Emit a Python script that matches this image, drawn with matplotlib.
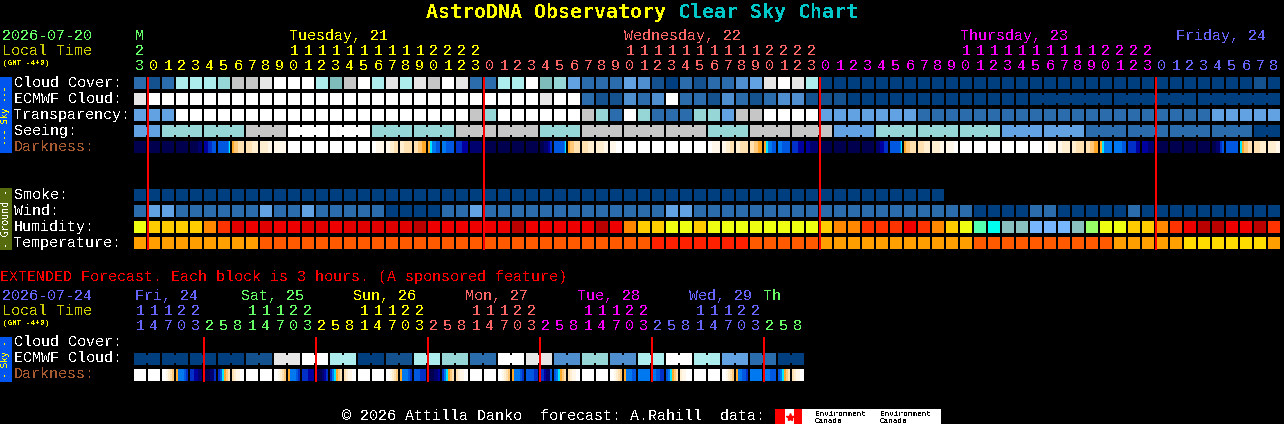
#!/usr/bin/env python3
"""Clear Sky Chart, drawn block by block on a pixel sized axes."""
from __future__ import annotations

import matplotlib
matplotlib.use("Agg")
import matplotlib.pyplot as plt
from matplotlib.colors import ListedColormap

# ---------------------------------------------------------------------------
# Data: one character per block, looked up in the palettes below
# ---------------------------------------------------------------------------

CLOUD = ("2127776889" "fff758f797" "98f92277f5" "6422243102" "122349f970"
         "0000000000" "0000000000" "0000000000" "10")
ECMWF = ("9fffffffff" "ffffffffff" "fffffffff9" "ff211323f2" "2132123311"
         "1000000000" "0000000000" "0000000000" "00")
TRANSPARENCY = ("444fffffff" "ffffffffff" "ffff86ffff" "ff862f6222" "66488ffff4"
                "4444442222" "2222222222" "2222222444" "44")
SEEING = ("44" "666" "666" "888" "fff" "fff" "666" "666" "888" "888" "666" "888"
          "888" "888" "666" "888" "888" "444" "666" "666" "666" "444" "444" "222"
          "222" "222" "222" "00")
SMOKE = "0" * 58
WIND = ("2442222224" "2242222200" "0022422222" "2222222244" "2222222222"
        "2222222222" "0000220000" "0200000000" "00")
HUMIDITY = ("abbbbcdfef" "eeffefffff" "geeeeeegee" "eeegecbbaa" "baaaaaaaab"
            "ccdddedcba" "hijjkkkjla" "abbcdeggee" "gd")
TEMPERATURE = ("p" * 9 + "q" * 28 + "s" * 7 + "q" * 5 + "p" * 11
               + "q" * 10 + "p" * 5 + "t" * 6 + "p")
DARKNESS = [
    "000000", "000000", "000000", "000000", "000011", "223344", "444444444456",
    "788999", "999aaa", "aaaabb", "bbbbbb", "cccccc", "cccccc", "cccccc",
    "cccccc", "cccccc", "cccccc", "ccbbbb", "bbaa99", "aa9999", "998877",
    "765544", "554444", "333222", "111111", "000000", "000000", "000000",
    "000000", "001123", "444444444456", "788999", "999aaa", "aaaabb", "bbbccc",
    "cccccc", "cccccc", "cccccc", "cccccc", "cccccc", "cccccc", "ccbbbb",
    "bbaa99", "aa9999", "998877", "765544", "554444", "333222", "221111",
    "000000", "000000", "000000", "000000", "112233", "444444444456", "788999",
    "999aaa", "aaaabb", "bbbbcc", "cccccc", "cccccc", "cccccc", "cccccc",
    "cccccc", "cccccc", "ccbbbb", "bbaaaa", "aa9999", "998877", "765555",
    "555544", "333322", "222111", "000000", "000000", "000000", "000000",
    "001134", "444444", "678899", "999aaa", "aaaabb",
]

SEEING_GROUPS = [2] + [3] * 26 + [2]
ECMWF_GROUPS = [1] * 64 + [6, 6, 6]

EXT_ECMWF = ("00000000" "11" "99" "ff" "77" "00" "11" "77" "66" "22" "ff" "99"
             "33" "66" "33" "77" "ff" "77" "44" "22" "00")
EXT_GROUPS = [2] * 24
EXT_DARKNESS = [
    "cccccc", "cccccc", "ccba98", "755543", "332211", "000113", "346789", "9abbcc",
    "cccccc", "cccccc", "ccba98", "755543", "333222", "000123", "356789", "9abbcc",
    "cccccc", "cccccc", "ccba98", "755543", "444333", "000112", "356789", "9abbcc",
    "cccccc", "cccccc", "ccba98", "755543", "444433", "332114", "456789", "9abbcc",
    "cccccc", "cccccc", "ccba98", "755544", "555555", "554433", "456789", "abbccc",
    "cccccc", "cccccc", "ccba98", "755443", "555555", "555444", "456789", "9abbcc",
]

HOUR_TENS = ("2" "          " "1111111111" "2222" "          " "1111111111" "2222"
             "          " "1111111111" "2222" "         ")
HOUR_ONES = ("3" "012345678901234567890123" "012345678901234567890123"
             "012345678901234567890123" "012345678")
EXT_TENS = "11122   11122   11122   11122   11122   11122   "
EXT_ONES = "14703258" * 6

# day spans: (first block, last block + 1, colour key)
HOUR_SPANS = [(0, 1, "green"), (1, 25, "yellow"), (25, 49, "salmon"),
              (49, 73, "magenta"), (73, 82, "violet")]
EXT_SPANS = [(0, 5, "violet"), (5, 13, "green"), (13, 21, "yellow"),
             (21, 29, "salmon"), (29, 37, "magenta"), (37, 45, "violet"),
             (45, 48, "green")]
DAY_LABELS = [("M", 135, "green"), ("Tuesday, 21", 289, "yellow"),
              ("Wednesday, 22", 624, "salmon"), ("Thursday, 23", 960, "magenta"),
              ("Friday, 24", 1176, "violet")]
EXT_DAY_LABELS = [("Fri, 24", 135, "violet"), ("Sat, 25", 241, "green"),
                  ("Sun, 26", 353, "yellow"), ("Mon, 27", 465, "salmon"),
                  ("Tue, 28", 577, "magenta"), ("Wed, 29", 689, "violet"),
                  ("Th", 764, "green")]
MAIN_LINES = [147, 483, 819, 1155]
EXT_LINES = [203, 315, 427, 539, 651, 763]

# ---------------------------------------------------------------------------
# Styles
# ---------------------------------------------------------------------------

FONT = "Liberation Mono"
TITLE_FONT = "DejaVu Sans Mono"
TEXT_COLORS = {"green": "#66FF66", "yellow": "#FFFF00", "salmon": "#FF6666",
               "magenta": "#FF00FF", "violet": "#6666FF"}

SKY_PALETTE = {
    "0": "#003F7F", "1": "#13528F", "2": "#2B6CAD", "3": "#4F8FD0", "4": "#62A1E2",
    "5": "#7FBDBD", "6": "#96D6D6", "7": "#AEEDED", "8": "#C6C6C6", "9": "#E6E6E6",
    "f": "#FFFFFF",
}
GROUND_PALETTE = {
    "a": "#EEFF11", "b": "#FFCC00", "c": "#FF8800", "d": "#FF3300", "e": "#EE0000",
    "f": "#E00000", "g": "#BB0000", "h": "#55FFB0", "i": "#00FFEE", "j": "#88C0C0",
    "k": "#77B5FE", "l": "#99FF66", "p": "#FFA000", "q": "#FF5A00", "s": "#FF2000",
    "t": "#FFDD00",
}
DARK_CMAP = ListedColormap([
    "#00004F", "#00006F", "#0000A0", "#0030C8", "#0058E0", "#0078F0", "#00E8FF",
    "#FFA828", "#FFC878", "#FFE0B0", "#FFEECF", "#FFF8EA", "#FFFFFF",
])

X0, PITCH, SIZE = 134, 14, 12


def text(ax, x, y, s, color="white", size=10.8, font=FONT, **kw):
    kw.setdefault("ha", "left")
    kw.setdefault("va", "baseline")
    ax.text(x, y, s, color=color, fontsize=size, family=font, **kw)


def draw_row(ax, y, values, palette, groups=None):
    xs = [X0 + PITCH * i for i in range(len(values))]
    ax.bar(xs, SIZE, SIZE, y, align="edge", antialiased=False,
           color=[palette[v] for v in values])
    if not groups:
        return
    # blocks of one group are joined by a narrower bridge
    start = 0
    for n in groups:
        for i in range(start, start + n - 1):
            ax.bar(xs[i] + SIZE, SIZE - 4, PITCH - SIZE, y + 2, align="edge",
                   antialiased=False, color=palette[values[i]])
        start += n


def draw_darkness(ax, y, cells):
    for i, cell in enumerate(cells):
        x = X0 + PITCH * i
        ax.imshow([[int(c, 16) for c in cell]], extent=(x, x + SIZE, y + SIZE, y),
                  cmap=DARK_CMAP, vmin=0, vmax=12, interpolation="nearest",
                  aspect="auto")


def draw_hours(ax, y, digits, spans):
    for first, last, key in spans:
        for i in range(first, last):
            if digits[i] != " ":
                text(ax, X0 + PITCH * i + 6, y, digits[i], TEXT_COLORS[key], ha="center")


def main() -> None:
    assert all(len(r) == 82 for r in (CLOUD, ECMWF, TRANSPARENCY, SEEING, WIND,
                                      HUMIDITY, TEMPERATURE, DARKNESS, HOUR_ONES,
                                      HOUR_TENS))
    assert len(EXT_ECMWF) == 48 and len(EXT_DARKNESS) == 48

    plt.rcParams["text.antialiased"] = False
    fig = plt.figure(figsize=(12.84, 4.24), dpi=100, facecolor="black")
    ax = fig.add_axes([0, 0, 1, 1])
    ax.set_xlim(0, 1284)
    ax.set_ylim(424, 0)
    ax.axis("off")

    # ---- Title ----
    text(ax, 426, 18.5, "AstroDNA Observatory", "#FFFF00", 14.35, TITLE_FONT, fontweight="bold")
    text(ax, 678, 18.5, "Clear Sky Chart", "#00C8C8", 14.35, TITLE_FONT, fontweight="bold")

    # ---- Main header ----
    text(ax, 2, 40, "2026-07-20", TEXT_COLORS["green"])
    text(ax, 2, 55, "Local Time", "#CCCC00")
    text(ax, 3, 65, "(GMT -4+0)", "#FFFF00", 5.5)
    for label, x, key in DAY_LABELS:
        text(ax, x, 40, label, TEXT_COLORS[key])
    draw_hours(ax, 55, HOUR_TENS, HOUR_SPANS)
    draw_hours(ax, 70, HOUR_ONES, HOUR_SPANS)

    # ---- Main rows ----
    for y, label, base, color in [
        (77, "Cloud Cover:", 87, "white"), (93, "ECMWF Cloud:", 103, "white"),
        (109, "Transparency:", 119, "white"), (125, "Seeing:", 135, "white"),
        (141, "Darkness:", 151, "#A85A30"), (189, "Smoke:", 199, "white"),
        (205, "Wind:", 215, "white"), (221, "Humidity:", 231, "white"),
        (237, "Temperature:", 247, "white"),
    ]:
        text(ax, 14, base, label, color)
    draw_row(ax, 77, CLOUD, SKY_PALETTE)
    draw_row(ax, 93, ECMWF, SKY_PALETTE, ECMWF_GROUPS)
    draw_row(ax, 109, TRANSPARENCY, SKY_PALETTE)
    draw_row(ax, 125, SEEING, SKY_PALETTE, SEEING_GROUPS)
    draw_darkness(ax, 141, DARKNESS)
    draw_row(ax, 189, SMOKE, SKY_PALETTE)
    draw_row(ax, 205, WIND, SKY_PALETTE)
    draw_row(ax, 221, HUMIDITY, GROUND_PALETTE)
    draw_row(ax, 237, TEMPERATURE, GROUND_PALETTE)

    # ---- Side bars ----
    ax.bar(0, 76, 12, 77, align="edge", color="#0055EE", antialiased=False)
    text(ax, 6, 115, "--- Sky ---", "#FFFF00", 6.5, TITLE_FONT, rotation=90, ha="center", va="center")
    ax.bar(0, 62, 12, 188, align="edge", color="#556B0E", antialiased=False)
    text(ax, 6, 219, "- Ground -", "white", 7, TITLE_FONT, rotation=90, ha="center", va="center")
    ax.bar(0, 45, 12, 337, align="edge", color="#0055EE", antialiased=False)
    text(ax, 6, 359, "- Sky -", "#FFFF00", 6.5, TITLE_FONT, rotation=90, ha="center", va="center")

    # ---- Extended forecast ----
    text(ax, 0, 281, "EXTENDED Forecast. Each block is 3 hours. (A sponsored feature)",
         "#FF0000")
    text(ax, 2, 300, "2026-07-24", TEXT_COLORS["violet"])
    text(ax, 2, 315, "Local Time", "#CCCC00")
    text(ax, 3, 325, "(GMT -4+0)", "#FFFF00", 5.5)
    for label, x, key in EXT_DAY_LABELS:
        text(ax, x, 300, label, TEXT_COLORS[key])
    draw_hours(ax, 315, EXT_TENS, EXT_SPANS)
    draw_hours(ax, 330, EXT_ONES, EXT_SPANS)
    text(ax, 14, 346, "Cloud Cover:")
    text(ax, 14, 362, "ECMWF Cloud:")
    text(ax, 14, 378, "Darkness:", "#A85A30")
    draw_row(ax, 353, EXT_ECMWF, SKY_PALETTE, EXT_GROUPS)
    draw_darkness(ax, 369, EXT_DARKNESS)

    # ---- Midnight lines ----
    ax.bar(MAIN_LINES, 173, 2, 77, align="edge", color="#FF0000", antialiased=False, zorder=5)
    ax.bar(EXT_LINES, 45, 2, 337, align="edge", color="#FF0000", antialiased=False, zorder=5)

    # ---- Footer ----
    text(ax, 342, 420, "\u00a9 2026 Attilla Danko  forecast: A.Rahill  data:")
    ax.bar(775, 15, 166, 409, align="edge", color="white", antialiased=False)
    ax.bar([775, 794], 15, [10, 8], 409, align="edge", color="#FF0000", antialiased=False)
    ax.plot(789.5, 416.5, marker="*", markersize=6, color="#FF0000", linestyle="none")
    for x in (815, 880):
        text(ax, x, 416, "Environment", "black", 5.6)
        text(ax, x, 423, "Canada", "black", 5.6)

    fig.savefig("out.png", dpi=100, facecolor="black")
    plt.close(fig)


if __name__ == "__main__":
    main()
